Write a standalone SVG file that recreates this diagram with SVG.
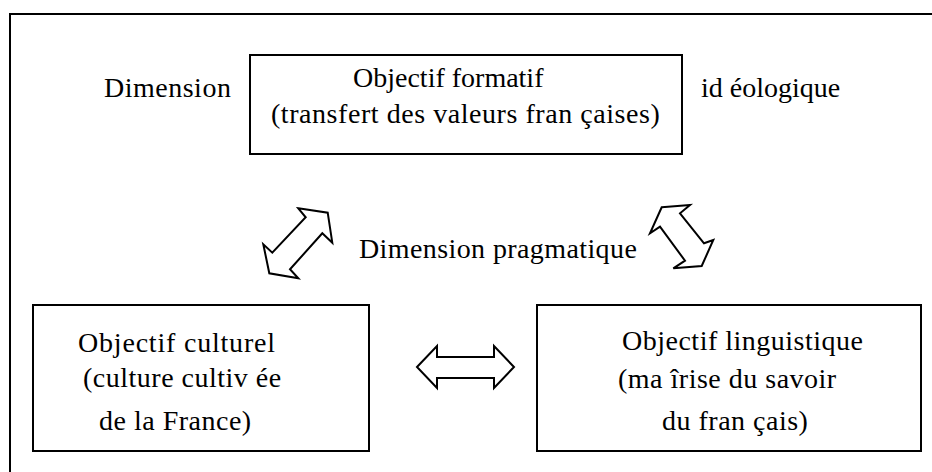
<svg xmlns="http://www.w3.org/2000/svg" width="932" height="472" viewBox="0 0 932 472">
<style>
.box{fill:#fff;stroke:#000;stroke-width:2}
.frame{fill:none;stroke:#000;stroke-width:2}
.arr{fill:#fff;stroke:#000;stroke-width:2;stroke-linejoin:miter}
.t{font-family:'Liberation Serif',serif;font-size:28px;fill:#000}
</style>
<rect width="932" height="472" fill="#fff"/>
<rect class="frame" x="10" y="14" width="940" height="480"/>
<g id="labels">
<text class="t" x="104" y="97" letter-spacing="0.5">Dimension</text>
<text class="t" x="701" y="97">id éologique</text>
<text class="t" x="359" y="258" letter-spacing="0.4">Dimension pragmatique</text>
</g>
<g id="node-formatif">
<rect class="box" x="250" y="55" width="432" height="99"/>
<text class="t" x="353" y="87">Objectif formatif</text>
<text class="t" x="271" y="123" letter-spacing="0.55">(transfert des valeurs fran çaises)</text>
</g>
<g id="node-culturel">
<rect class="box" x="33" y="305" width="336" height="146"/>
<text class="t" x="78" y="352" letter-spacing="0.8">Objectif culturel</text>
<text class="t" x="83" y="387" letter-spacing="0.5">(culture cultiv ée</text>
<text class="t" x="99" y="430" letter-spacing="0.5">de la France)</text>
</g>
<g id="node-linguistique">
<rect class="box" x="537" y="305" width="384" height="146"/>
<text class="t" x="622" y="350" letter-spacing="0.5">Objectif linguistique</text>
<text class="t" x="618" y="388" letter-spacing="0.5">(ma îrise du savoir</text>
<text class="t" x="662" y="430" letter-spacing="0.5">du fran çais)</text>
</g>
<g id="connectors">
<polygon class="arr" points="298.3,208.3 327.7,212.7 332.3,242.7 322.3,233.3 290,269.3 298.3,278.3 269.3,273.3 263.3,244.3 272.3,252.7 305.7,217.3"/>
<polygon class="arr" points="661.7,207.3 690,205 680,213.3 704,243.3 713.3,240 701.7,266 673.3,268.3 685,260.7 660,226.7 650,233.3"/>
<polygon class="arr" points="417,367 437,346 437,357 494,357 494,346 514,367 494,388 494,378 437,378 437,388"/>
</g>
</svg>
